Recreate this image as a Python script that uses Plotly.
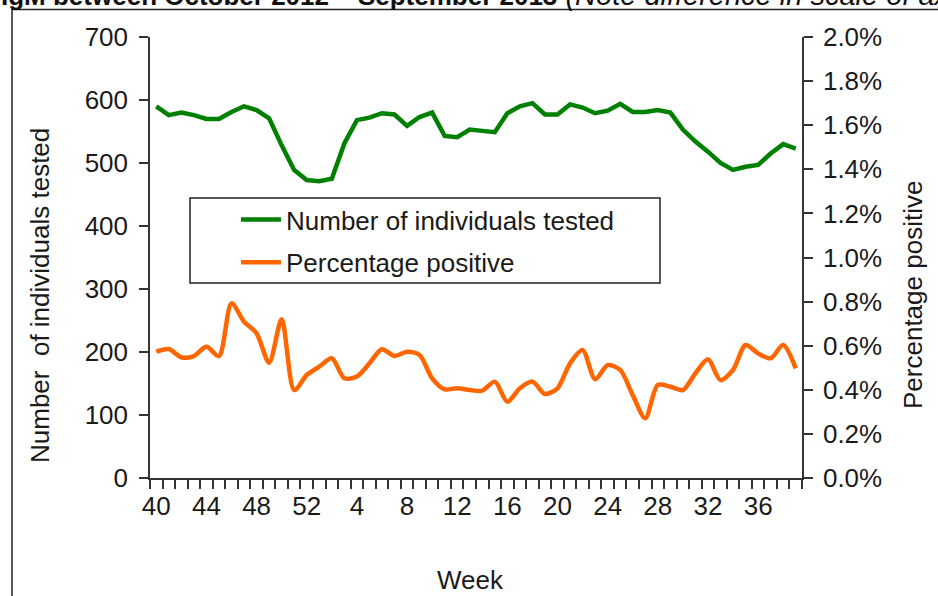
import plotly.graph_objects as go

# ---- data ----
weeks = ["40", "41", "42", "43", "44", "45", "46", "47", "48", "49", "50", "51", "52",
         "1", "2", "3", "4", "5", "6", "7", "8", "9", "10", "11", "12", "13", "14", "15",
         "16", "17", "18", "19", "20", "21", "22", "23", "24", "25", "26", "27", "28",
         "29", "30", "31", "32", "33", "34", "35", "36", "37", "38", "39"]
tick_labels = ["40", "44", "48", "52", "4", "8", "12", "16", "20", "24", "28", "32", "36"]
tested = [590, 576, 580, 576, 570, 570, 581, 590, 584, 571, 528, 489, 473,
          471, 475, 531, 568, 572, 579, 577, 559, 573, 580,
          543, 541, 553, 551, 549, 579, 590, 595, 577, 577,
          593, 588, 579, 583, 594, 581, 581, 584, 580, 553,
          534, 518, 500, 489, 494, 497, 515, 530, 523]
pct_positive = [0.573, 0.585, 0.547, 0.553, 0.595, 0.553, 0.792, 0.709, 0.656, 0.523, 0.720, 0.399, 0.467,
                0.505, 0.543, 0.452, 0.460, 0.520, 0.584, 0.553, 0.573, 0.558, 0.452,
                0.402, 0.407, 0.399, 0.396, 0.437, 0.346, 0.407, 0.437, 0.381, 0.407,
                0.520, 0.580, 0.448, 0.512, 0.490, 0.376, 0.271, 0.422, 0.414, 0.399,
                0.475, 0.538, 0.444, 0.490, 0.603, 0.565, 0.543, 0.603, 0.497]

FONT = "Liberation Sans, Arial, sans-serif"
FS = 26
AX = "#333333"

W, H = 938, 596
L, R, T, B = 150, 136, 37, 118
PW, PH = W - L - R, H - T - B

def px(x):
    return (x - L) / PW

def py(y):
    return (H - B - y) / PH

fig = go.Figure()
fig.add_trace(go.Scatter(x=weeks, y=tested, name="Number of individuals tested",
                         mode="lines", line=dict(color="#008000", width=4.5),
                         yaxis="y", legendgroup="a"))
fig.add_trace(go.Scatter(x=weeks, y=pct_positive, name="Percentage positive",
                         mode="lines", line=dict(color="#FF6600", width=4.5, shape="spline", smoothing=0.8),
                         yaxis="y2", legendgroup="b"))

tickvals = list(weeks)
ticktext = [w if w in tick_labels and i % 4 == 0 else "" for i, w in enumerate(weeks)]
n = len(weeks)

fig.update_layout(
    width=W, height=H,
    margin=dict(l=L, r=R, t=T, b=B, autoexpand=False),
    paper_bgcolor="white", plot_bgcolor="white",
    font=dict(family=FONT, size=FS, color="#1a1a1a"),
    showlegend=True,
    legend=dict(x=px(236), y=py(196), xanchor="left", yanchor="top",
                bgcolor="rgba(0,0,0,0)", borderwidth=0,
                font=dict(size=FS), tracegroupgap=6, itemwidth=40,
                traceorder="grouped"),
    xaxis=dict(type="category", categoryorder="array", categoryarray=weeks,
               range=[-0.5, n - 0.5], tickmode="array", tickvals=tickvals, ticktext=ticktext,
               tickangle=0,
               tickson="boundaries", ticks="outside", ticklen=9, tickwidth=1.5, tickcolor=AX,
               showline=True, linecolor=AX, linewidth=1.5, showgrid=False, zeroline=False,
               ticklabelstandoff=4),
    xaxis2=dict(overlaying="x", anchor="y", range=[-0.5, n - 0.5],
                tickmode="array", tickvals=[i - 0.5 for i in range(n + 1)],
                ticks="inside", ticklen=8, tickwidth=1.5, tickcolor=AX,
                showticklabels=False, showline=False, showgrid=False, zeroline=False),
    yaxis=dict(range=[0, 700], dtick=100, tick0=0, ticks="outside", ticklen=9, tickwidth=1.5,
               tickcolor=AX, showline=True, linecolor=AX, linewidth=1.5,
               showgrid=False, zeroline=False, ticklabelstandoff=6),
    yaxis2=dict(overlaying="y", side="right", anchor="x", range=[0, 2.0], dtick=0.2, tick0=0,
                tickformat=".1f", ticksuffix="%", ticks="outside", ticklen=9, tickwidth=1.5,
                tickcolor=AX, showline=True, linecolor=AX, linewidth=1.5,
                showgrid=False, zeroline=False, ticklabelstandoff=5),
    yaxis3=dict(overlaying="y", side="left", anchor="x", range=[0, 700], dtick=100, tick0=0,
                ticks="inside", ticklen=8, tickwidth=1.5, tickcolor=AX,
                showticklabels=False, showline=False, showgrid=False, zeroline=False),
    yaxis4=dict(overlaying="y", side="right", anchor="x", range=[0, 2.0], dtick=0.2, tick0=0,
                ticks="inside", ticklen=8, tickwidth=1.5, tickcolor=AX,
                showticklabels=False, showline=False, showgrid=False, zeroline=False),
)

# outer chart border (extends beyond the visible page on right/bottom)
fig.add_shape(type="rect", xref="paper", yref="paper",
              x0=px(12), x1=px(W + 20), y0=py(H + 20), y1=py(9.5),
              line=dict(color="#222222", width=1.5), fillcolor="rgba(0,0,0,0)", layer="above")
# legend box
fig.add_shape(type="rect", xref="paper", yref="paper",
              x0=px(190), x1=px(660), y0=py(283), y1=py(198),
              line=dict(color="#222222", width=1.5), fillcolor="rgba(0,0,0,0)", layer="above")

# title (clipped at top of the page, as in the source image)
fig.add_annotation(xref="paper", yref="paper", x=px(-1), y=py(13), xanchor="left", yanchor="bottom",
                   text=("<b>IgM between October 2012 – September 2013</b>"
                         "<span style='font-size:29px'> <i>(Note difference in scale of axes)</i></span>"),
                   showarrow=False, font=dict(size=FS, family=FONT, color="#111111"))
# axis titles
fig.add_annotation(xref="paper", yref="paper", x=px(40), y=py(296), textangle=-90,
                   xanchor="center", yanchor="middle",
                   text="Number  of individuals tested", showarrow=False,
                   font=dict(size=FS, family=FONT, color="#1a1a1a"))
fig.add_annotation(xref="paper", yref="paper", x=px(913), y=py(295), textangle=-90,
                   xanchor="center", yanchor="middle",
                   text="Percentage positive", showarrow=False,
                   font=dict(size=FS, family=FONT, color="#1a1a1a"))
fig.add_annotation(xref="paper", yref="paper", x=px(470), y=py(580),
                   xanchor="center", yanchor="middle",
                   text="Week", showarrow=False,
                   font=dict(size=FS, family=FONT, color="#1a1a1a"))

fig.write_html("out.html", config={"displayModeBar": False},
               post_script="document.body.style.margin='0';")
